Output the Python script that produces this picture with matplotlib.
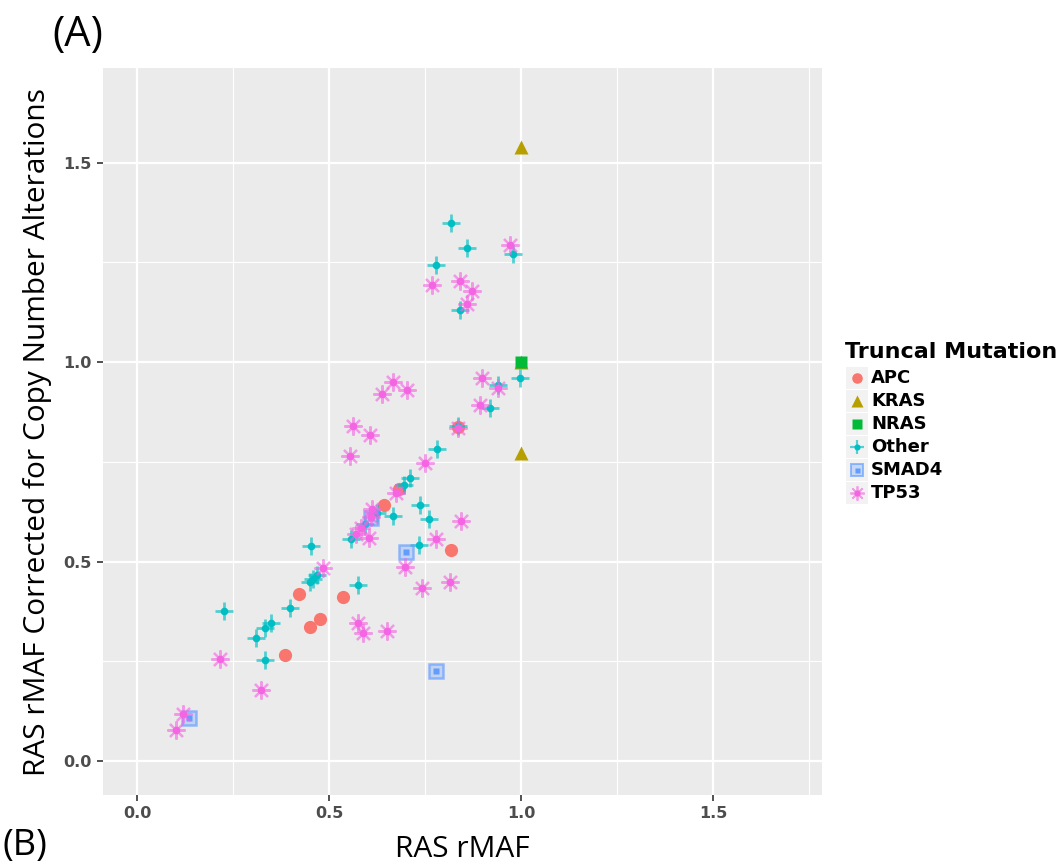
import matplotlib
matplotlib.use("Agg")
import matplotlib.pyplot as plt
from matplotlib.patches import Rectangle

# data
apc_x = [0.385, 0.422, 0.450, 0.477, 0.537, 0.643, 0.683, 0.818, 0.836]
apc_y = [0.266, 0.419, 0.336, 0.357, 0.412, 0.642, 0.682, 0.530, 0.838]

kras_x = [1.0, 1.0, 1.0]
kras_y = [1.54, 1.0, 0.772]

nras_x = [1.0]
nras_y = [1.0]

other_x = [0.818, 0.859, 0.778, 0.978, 0.840, 0.998, 0.940, 0.920, 0.837, 0.782,
           0.711, 0.695, 0.737, 0.761, 0.666, 0.624, 0.594, 0.557, 0.733, 0.576,
           0.454, 0.468, 0.457, 0.450, 0.399, 0.227, 0.349, 0.334, 0.310, 0.332]
other_y = [1.348, 1.287, 1.243, 1.271, 1.131, 0.960, 0.942, 0.884, 0.840, 0.781,
           0.709, 0.693, 0.641, 0.607, 0.614, 0.621, 0.594, 0.556, 0.541, 0.441,
           0.539, 0.467, 0.456, 0.449, 0.383, 0.377, 0.347, 0.333, 0.309, 0.253]

smad4_x = [0.136, 0.610, 0.700, 0.779]
smad4_y = [0.109, 0.610, 0.524, 0.226]

tp53_x = [0.970, 0.768, 0.841, 0.872, 0.859, 0.898, 0.939, 0.894, 0.667, 0.637,
          0.702, 0.562, 0.607, 0.555, 0.836, 0.750, 0.673, 0.612, 0.610, 0.584,
          0.569, 0.605, 0.779, 0.843, 0.485, 0.697, 0.741, 0.815, 0.576, 0.587,
          0.652, 0.216, 0.323, 0.119, 0.102]
tp53_y = [1.293, 1.192, 1.203, 1.179, 1.146, 0.959, 0.936, 0.892, 0.951, 0.921,
          0.931, 0.840, 0.816, 0.764, 0.836, 0.748, 0.671, 0.632, 0.612, 0.583,
          0.568, 0.558, 0.556, 0.601, 0.485, 0.486, 0.435, 0.449, 0.345, 0.322,
          0.327, 0.257, 0.177, 0.119, 0.078]

groups = ["APC", "KRAS", "NRAS", "Other", "SMAD4", "TP53"]
colors = ["#F8766D", "#B79F00", "#00BA38", "#00BFC4", "#619CFF", "#F564E3"]

plt.rcParams['font.family'] = ['Open Sans', 'DejaVu Sans']

fig = plt.figure(figsize=(10.63, 8.65), dpi=100)
ax = fig.add_axes([103 / 1063, 1 - 795 / 865, 719 / 1063, 727 / 865])
ax.set_facecolor("#EBEBEB")
for s in ax.spines.values():
    s.set_visible(False)


def draw_marker(a, x, y, kind, col, scale=1.0):
    if kind == "APC":
        a.plot(x, y, "o", ms=9.5 * scale, color=col, mec="none", zorder=3)
    elif kind == "KRAS":
        a.plot(x, y, "^", ms=10.5 * scale, color=col, mec="none", zorder=3)
    elif kind == "NRAS":
        a.plot(x, y, "s", ms=9 * scale, color=col, mec="none", zorder=4)
    elif kind == "Other":
        a.plot(x, y, "+", ms=13 * scale, mew=2.0 * scale, color=col, alpha=0.65, zorder=3)
        a.plot(x, y, "o", ms=5.5 * scale, color=col, mec="none", zorder=3)
    elif kind == "SMAD4":
        a.plot(x, y, "s", ms=10 * scale, mfc=(0.38, 0.61, 1.0, 0.3), mec=(0.38, 0.61, 1.0, 0.65),
               mew=1.8 * scale, linestyle="none", zorder=3)
        a.plot(x, y, "s", ms=4.5 * scale, color=col, mec="none", zorder=3)
    elif kind == "TP53":
        a.plot(x, y, marker=(8, 2, 0), ms=13 * scale, mew=1.6 * scale, color=col,
               alpha=0.6, linestyle="none", zorder=3)
        a.plot(x, y, "o", ms=5.5 * scale, color=col, mec="none", zorder=3)


series = {
    "APC": (apc_x, apc_y), "KRAS": (kras_x, kras_y), "NRAS": (nras_x, nras_y),
    "Other": (other_x, other_y), "SMAD4": (smad4_x, smad4_y), "TP53": (tp53_x, tp53_y),
}
for g, c in zip(groups, colors):
    xs, ys = series[g]
    draw_marker(ax, xs, ys, g, c)

ax.set_xlim(-0.089, 1.784)
ax.set_ylim(-0.085, 1.737)
ax.set_xticks([0.0, 0.5, 1.0, 1.5])
ax.set_yticks([0.0, 0.5, 1.0, 1.5])
ax.set_xticks([0.25, 0.75, 1.25, 1.75], minor=True)
ax.set_yticks([0.25, 0.75, 1.25], minor=True)
ax.set_xticklabels(["0.0", "0.5", "1.0", "1.5"])
ax.set_yticklabels(["0.0", "0.5", "1.0", "1.5"])
ax.grid(which="major", color="white", lw=1.6)
ax.grid(which="minor", color="white", lw=0.8)
ax.set_axisbelow(True)
ax.tick_params(which="major", length=4, width=1.2, color="#333333",
               labelsize=11.5, labelcolor="#4D4D4D", pad=4)
ax.tick_params(which="minor", length=0)
for lab in ax.get_xticklabels() + ax.get_yticklabels():
    lab.set_fontweight("bold")
    lab.set_family(["DejaVu Sans"])

ax.set_xlabel("RAS rMAF", fontsize=21.5, labelpad=10)
ax.set_ylabel("RAS rMAF Corrected for Copy Number Alterations", fontsize=21.5, labelpad=8)

fig.text(52 / 1063, 1 - 35 / 865, "(A)", fontsize=30, va="center", ha="left")
fig.text(3 / 1063, 1 - 864 / 865, "(B)", fontsize=26, va="bottom", ha="left")

# legend drawn in pixel coordinates
lg = fig.add_axes([0, 0, 1, 1], facecolor="none")
lg.set_xlim(0, 1063)
lg.set_ylim(865, 0)
lg.axis("off")
lg.text(845, 352, "Truncal Mutation", fontsize=16, fontweight="bold",
        family=["DejaVu Sans"], va="center", ha="left")
for i, (g, c) in enumerate(zip(groups, colors)):
    yc = 378 + i * 23
    lg.add_patch(Rectangle((846, yc - 11), 22, 22, facecolor="#F2F2F2", edgecolor="none"))
    draw_marker(lg, [857], [yc], g, c, scale=0.8)
    lg.text(871, yc, g, fontsize=13, fontweight="bold", family=["DejaVu Sans"],
            va="center", ha="left")

fig.savefig("out.png", dpi=100)
